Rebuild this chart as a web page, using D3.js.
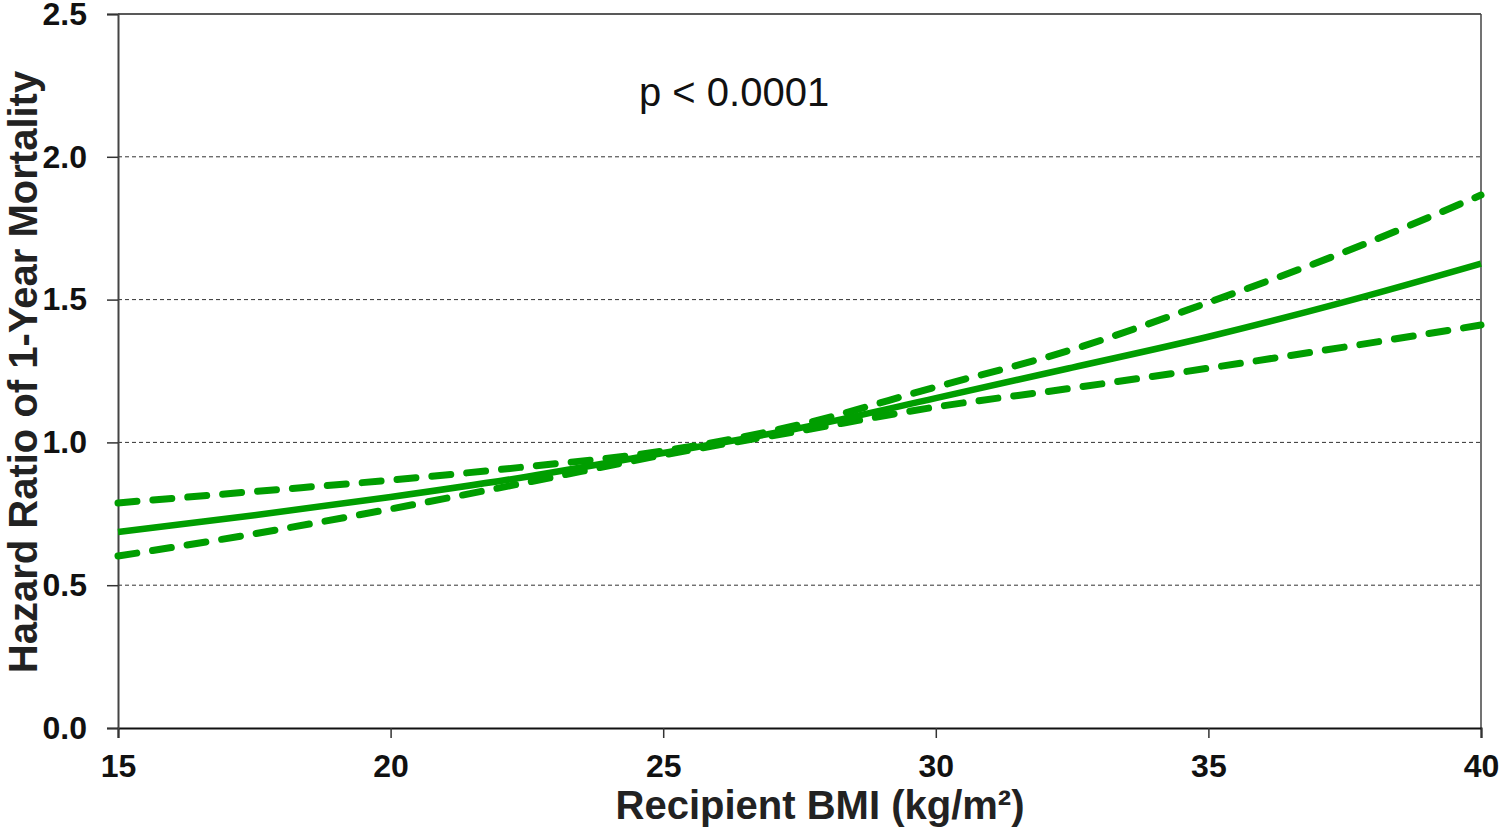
<!DOCTYPE html>
<html>
<head>
<meta charset="utf-8">
<script src="https://cdn.jsdelivr.net/npm/d3@7"></script>
<style>
  html, body { margin: 0; padding: 0; background: #fff; }
  svg { display: block; font-family: "Liberation Sans", Arial, sans-serif; }
</style>
</head>
<body>
<svg id="chart" width="1500" height="828"></svg>
<script>
const bmi      = [15, 17.5, 20, 22.5, 25, 27.5, 30, 32.5, 35, 37.5, 40];
const hrCenter = [0.686, 0.745, 0.809, 0.880, 0.963, 1.050, 1.155, 1.262, 1.370, 1.492, 1.626];
const hrUpper  = [0.788, 0.828, 0.868, 0.915, 0.970, 1.062, 1.194, 1.325, 1.490, 1.667, 1.866];
const hrLower  = [0.602, 0.680, 0.767, 0.860, 0.956, 1.040, 1.124, 1.190, 1.260, 1.334, 1.411];
const xTicks = [15, 20, 25, 30, 35, 40];
const yTicks = [0.0, 0.5, 1.0, 1.5, 2.0, 2.5];
const gridValues = [0.5, 1.0, 1.5, 2.0];
const pText = "p < 0.0001";
const xTitle = "Recipient BMI (kg/m²)";
const yTitle = "Hazard Ratio of 1-Year Mortality";

const svg = d3.select("#chart");
const m = {left: 118, right: 1500 - 1481, top: 14, bottom: 828 - 728};
const W = 1500, H = 828;
const x = d3.scaleLinear().domain([15, 40]).range([m.left, W - m.right]);
const y = d3.scaleLinear().domain([0, 2.5]).range([H - m.bottom, m.top]);
const green = "#009e00";

// gridlines
svg.append("g").selectAll("line").data(gridValues).join("line")
  .attr("x1", x(15)).attr("x2", x(40))
  .attr("y1", d => y(d)).attr("y2", d => y(d))
  .attr("stroke", "#333").attr("stroke-width", 1)
  .attr("stroke-dasharray", "4,3");

// frame: top and right
svg.append("line").attr("x1", x(15)).attr("x2", x(40)).attr("y1", y(2.5)).attr("y2", y(2.5))
  .attr("stroke", "#222").attr("stroke-width", 1.5);
svg.append("line").attr("x1", x(40)).attr("x2", x(40)).attr("y1", y(2.5)).attr("y2", y(0))
  .attr("stroke", "#444").attr("stroke-width", 1.5);

// axes
const xAxis = d3.axisBottom(x).tickValues(xTicks).tickSize(10).tickPadding(16).tickFormat(d3.format("d"));
const gx = svg.append("g").attr("transform", `translate(0,${y(0)})`).call(xAxis);
gx.select(".domain").attr("stroke", "#111").attr("stroke-width", 2);
gx.selectAll(".tick line").attr("stroke", "#333").attr("stroke-width", 1.5);
gx.selectAll("text").attr("font-size", 32).attr("font-weight", "bold").attr("fill", "#111")
  .attr("font-family", "Liberation Sans, Arial, sans-serif");

const yAxis = d3.axisLeft(y).tickValues(yTicks).tickSize(11).tickPadding(20).tickFormat(d3.format(".1f"));
const gy = svg.append("g").attr("transform", `translate(${x(15)},0)`).call(yAxis);
gy.select(".domain").attr("stroke", "#444").attr("stroke-width", 2);
gy.selectAll(".tick line").attr("stroke", "#333").attr("stroke-width", 1.5);
gy.selectAll("text").attr("font-size", 32).attr("font-weight", "bold").attr("fill", "#111")
  .attr("font-family", "Liberation Sans, Arial, sans-serif");

// lines
const line = d3.line().x(d => x(d[0])).y(d => y(d[1])).curve(d3.curveMonotoneX);
const mk = arr => bmi.map((b, i) => [b, arr[i]]);

svg.append("path").datum(mk(hrUpper)).attr("d", line)
  .attr("fill", "none").attr("stroke", green).attr("stroke-width", 7)
  .attr("stroke-linecap", "round").attr("stroke-dasharray", "19,16");
svg.append("path").datum(mk(hrLower)).attr("d", line)
  .attr("fill", "none").attr("stroke", green).attr("stroke-width", 7)
  .attr("stroke-linecap", "round").attr("stroke-dasharray", "19,16");
svg.append("path").datum(mk(hrCenter)).attr("d", line)
  .attr("fill", "none").attr("stroke", green).attr("stroke-width", 6.5);

// p value
svg.append("text").attr("x", 639).attr("y", 106).attr("font-size", 40)
  .attr("fill", "#111").text(pText);

// titles
svg.append("text").attr("x", 820).attr("y", 819).attr("text-anchor", "middle")
  .attr("font-size", 40).attr("font-weight", "bold").attr("fill", "#222").text(xTitle);
svg.append("text").attr("transform", "translate(37,372) rotate(-90)").attr("text-anchor", "middle")
  .attr("font-size", 40).attr("font-weight", "bold").attr("fill", "#222").text(yTitle);
</script>
</body>
</html>
